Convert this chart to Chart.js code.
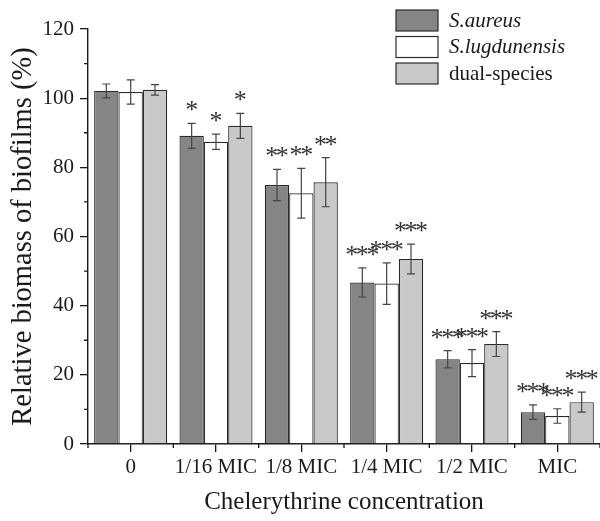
<!DOCTYPE html>
<html>
<head>
<meta charset="utf-8">
<script src="https://cdn.jsdelivr.net/npm/chart.js@4.4.0/dist/chart.umd.min.js"></script>
<style>
  html, body { margin: 0; padding: 0; background: #fff; }
  #wrap { width: 600px; height: 521px; }
</style>
</head>
<body>
<div id="wrap"><canvas id="chartArea" width="600" height="521"></canvas></div>
<script>
'use strict'
// data
const categories = ['0', '1/16 MIC', '1/8 MIC', '1/4 MIC', '1/2 MIC', 'MIC'];
const seriesNames = ['S.aureus', 'S.lugdunensis', 'dual-species'];

const aureusValues = [102.1, 89.1, 74.9, 46.7, 24.5, 9.2];
const aureusErrors = [2.0, 3.6, 4.5, 4.2, 2.5, 2.1];
const aureusStars = ['', '*', '**', '***', '***', '***'];

const lugdunensisValues = [101.8, 87.4, 72.5, 46.4, 23.4, 8.1];
const lugdunensisErrors = [3.5, 2.2, 7.2, 6.0, 3.9, 2.1];
const lugdunensisStars = ['', '*', '**', '***', '***', '***'];

const dualValues = [102.4, 92.0, 75.7, 53.5, 28.9, 12.1];
const dualErrors = [1.5, 3.6, 7.1, 4.3, 3.6, 2.9];
const dualStars = ['', '*', '**', '***', '***', '***'];

const yMin = 0, yMax = 120, yStep = 20;

const SERIF = "'Liberation Serif', 'Times New Roman', serif";
const INK = '#1a1a1a';

const extras = {
    id: 'extras',
    afterDatasetsDraw(chart) {
        const ctx = chart.ctx;
        const ys = chart.scales.y;
        ctx.save();
        chart.data.datasets.forEach((ds, di) => {
            const meta = chart.getDatasetMeta(di);
            meta.data.forEach((bar, i) => {
                const v = ds.data[i], e = ds.errors[i];
                const top = ys.getPixelForValue(v + e);
                const bot = ys.getPixelForValue(v - e);
                ctx.strokeStyle = '#444';
                ctx.lineWidth = 1.2;
                ctx.beginPath();
                ctx.moveTo(bar.x, top); ctx.lineTo(bar.x, bot);
                ctx.moveTo(bar.x - 4, top); ctx.lineTo(bar.x + 4, top);
                ctx.moveTo(bar.x - 4, bot); ctx.lineTo(bar.x + 4, bot);
                ctx.stroke();
                // significance marks, one glyph at a time so they sit tight
                const n = ds.stars[i].length;
                ctx.fillStyle = '#333';
                ctx.font = '26px ' + SERIF;
                ctx.textAlign = 'center';
                ctx.textBaseline = 'alphabetic';
                for (let k = 0; k < n; k++) {
                    const sx = bar.x + (k - (n - 1) / 2) * 10.6;
                    ctx.fillText('*', sx, top - 5);
                }
            });
        });
        ctx.restore();
    },
    afterDraw(chart) {
        const ctx = chart.ctx;
        const xs = chart.scales.x, ys = chart.scales.y;
        const area = chart.chartArea;
        ctx.save();
        ctx.strokeStyle = INK;
        ctx.lineWidth = 1.3;
        ctx.beginPath();
        // minor ticks on y
        for (let v = yMin + yStep / 2; v < yMax; v += yStep) {
            const py = ys.getPixelForValue(v);
            ctx.moveTo(area.left - 4, py); ctx.lineTo(area.left, py);
        }
        // minor ticks on x, at category boundaries
        const half = (xs.getPixelForValue(1) - xs.getPixelForValue(0)) / 2;
        for (let i = 0; i <= categories.length; i++) {
            const px = xs.getPixelForValue(i) - half;
            ctx.moveTo(px, area.bottom); ctx.lineTo(px, area.bottom + 4);
        }
        ctx.stroke();

        // legend
        chart.data.datasets.forEach((ds, di) => {
            const ry = 10 + di * 26.5;
            ctx.fillStyle = ds.backgroundColor;
            ctx.fillRect(396, ry, 42, 21);
            ctx.strokeStyle = '#2a2a2a';
            ctx.lineWidth = 1.2;
            ctx.strokeRect(396, ry, 42, 21);
            ctx.fillStyle = INK;
            ctx.font = (di < 2 ? 'italic ' : '') + '21px ' + SERIF;
            ctx.textAlign = 'left';
            ctx.textBaseline = 'middle';
            ctx.fillText(ds.label, 449, ry + 11);
        });
        ctx.restore();
    }
};

function makeSet(label, values, errors, stars, color) {
    return {
        label: label,
        data: values,
        errors: errors,
        stars: stars,
        backgroundColor: color,
        borderColor: '#2a2a2a',
        borderWidth: 1.2,
        barPercentage: 1.0,
        categoryPercentage: 0.856
    };
}

const ctx = document.getElementById('chartArea').getContext('2d');
new Chart(ctx, {
    type: 'bar',
    data: {
        labels: categories,
        datasets: [
            makeSet(seriesNames[0], aureusValues, aureusErrors, aureusStars, '#858585'),
            makeSet(seriesNames[1], lugdunensisValues, lugdunensisErrors, lugdunensisStars, '#ffffff'),
            makeSet(seriesNames[2], dualValues, dualErrors, dualStars, '#c9c9c9')
        ]
    },
    options: {
        responsive: false,
        animation: false,
        devicePixelRatio: 1,
        layout: { padding: { top: 29, right: 0, left: 0, bottom: 0 } },
        plugins: {
            legend: { display: false },
            tooltip: { enabled: false }
        },
        scales: {
            x: {
                offset: true,
                afterFit: (s) => { s.height = 77; },
                grid: { drawOnChartArea: false, offset: false, tickLength: 8, color: INK, lineWidth: 1.3 },
                border: { color: INK, width: 1.4 },
                ticks: { font: { family: SERIF, size: 21 }, color: INK, padding: 3, maxRotation: 0, autoSkip: false },
                title: { display: true, text: 'Chelerythrine concentration', font: { family: SERIF, size: 25 }, color: INK, padding: { top: 4, bottom: 4 } }
            },
            y: {
                min: yMin,
                max: yMax,
                afterFit: (s) => { s.width = 88; },
                grid: { drawOnChartArea: false, tickLength: 8, color: INK, lineWidth: 1.3 },
                border: { color: INK, width: 1.4 },
                ticks: { stepSize: yStep, font: { family: SERIF, size: 21 }, color: INK, padding: 6 },
                title: { display: true, text: 'Relative biomass of biofilms (%)', font: { family: SERIF, size: 28.5 }, color: INK, padding: { top: 6, bottom: 4 } }
            }
        }
    },
    plugins: [extras]
});
</script>
</body>
</html>
